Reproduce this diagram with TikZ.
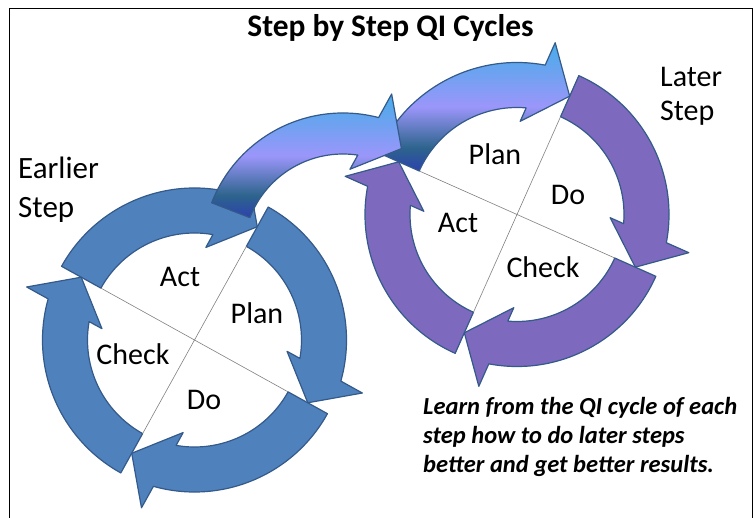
\documentclass[tikz,border=0pt]{standalone}
\usepackage{fontspec}
\setmainfont{Carlito}
\definecolor{qiblue}{RGB}{79,129,189}
\definecolor{qipurple}{RGB}{125,105,190}
\definecolor{qiedge}{RGB}{52,90,138}
\definecolor{qisky}{RGB}{80,170,235}
\definecolor{qilav}{RGB}{155,150,250}
\definecolor{qiteal}{RGB}{45,100,140}
\definecolor{qinavy}{RGB}{45,65,175}
\pgfdeclareverticalshading{qigrad}{100bp}{color(0bp)=(qinavy); color(25bp)=(qinavy); color(34bp)=(qiteal); color(50bp)=(qilav); color(72bp)=(qisky); color(100bp)=(qisky)}
\newcommand{\qihl}{35}
\newcommand{\qihw}{43}
% #1 style, #2 centre, #3 tip angle, #4 span, #5 inner radius, #6 outer radius
\newcommand{\qiarrow}[6]{%
  \path[#1, shift={(#2)}]
    ({#3+#4}:#6) arc[start angle={#3+#4}, end angle={#3+asin(\qihl/#6)}, radius=#6]
    -- ({#3+atan2(\qihl,(#5+#6)/2+\qihw)}:{veclen((#5+#6)/2+\qihw,\qihl)})
    -- (#3:{(#5+#6)/2})
    -- ({#3+atan2(\qihl,(#5+#6)/2-\qihw)}:{veclen((#5+#6)/2-\qihw,\qihl)})
    -- ({#3+asin(\qihl/#5)}:#5)
    arc[start angle={#3+asin(\qihl/#5)}, end angle={#3+#4}, radius=#5]
    -- cycle;}
\begin{document}
\begin{tikzpicture}[x=1pt, y=1pt,
    qiring/.style={draw=qiedge, line width=1.2pt, line join=round},
    bluering/.style={qiring, fill=qiblue},
    purplering/.style={qiring, fill=qipurple},
    gradring/.style={qiring, shade, shading=qigrad},
    divider/.style={draw=gray, line width=0.6pt},
    steplabel/.style={font=\fontsize{30}{36}\selectfont, anchor=base, inner sep=0pt}]
    \useasboundingbox (0,0) rectangle (753,-518);
    % Draw the frame.
    \draw[line width=0.9pt] (9,-518) -- (9,-8) -- (752.5,-8) -- (752.5,-518);
    % Draw the earlier step cycle.
    \qiarrow{bluering}{194.5,-340}{61}{90}{107}{152}
    \qiarrow{bluering}{194.5,-340}{-29}{90}{107}{152}
    \qiarrow{bluering}{194.5,-340}{-119}{90}{107}{152}
    \qiarrow{bluering}{194.5,-340}{151}{90}{107}{152}
    \draw[divider, shift={(194.5,-340)}] (151:107) -- (-29:107) (61:107) -- (-119:107);
    % Draw the later step cycle.
    \qiarrow{purplering}{517,-214.5}{-24}{90}{107}{152}
    \qiarrow{purplering}{517,-214.5}{-114}{90}{107}{152}
    \qiarrow{purplering}{517,-214.5}{156}{90}{107}{152}
    \draw[divider, shift={(517,-214.5)}] (156:107) -- (-24:107) (66:107) -- (-114:107);
    \qiarrow{gradring}{517,-214.5}{66}{90}{107}{152}
    % Draw the arrow from one step to the next.
    \qiarrow{gradring}{343,-254}{61}{97.7}{100}{141}
    % Specify the labels of the earlier cycle.
    \node[steplabel] (eact) at (180,-287) {Act};
    \node[steplabel] (eplan) at (257,-324) {Plan};
    \node[steplabel] (echeck) at (133,-365) {Check};
    \node[steplabel] (edo) at (204,-410) {Do};
    % Specify the labels of the later cycle.
    \node[steplabel] (lplan) at (495,-165) {Plan};
    \node[steplabel] (ldo) at (568,-205) {Do};
    \node[steplabel] (lact) at (458,-233) {Act};
    \node[steplabel] (lcheck) at (543,-278) {Check};
    % Specify the title and the notes.
    \node[anchor=base, inner sep=0pt, font=\fontsize{31.4}{37}\selectfont\bfseries] (title) at (390.5,-37) {Step by Step QI Cycles};
    \node[anchor=base west, inner sep=0pt, align=left, font=\fontsize{31}{39}\selectfont] (earlier) at (18,-218) {Earlier\\Step};
    \node[anchor=base west, inner sep=0pt, align=left, font=\fontsize{30}{34}\selectfont] (later) at (660,-121) {Later\\Step};
    \node[anchor=base west, inner sep=0pt, align=left, font=\fontsize{24.5}{29}\selectfont\bfseries\itshape] (note) at (423,-473) {Learn from the QI cycle of each\\step how to do later steps\\better and get better results.};
\end{tikzpicture}
\end{document}
